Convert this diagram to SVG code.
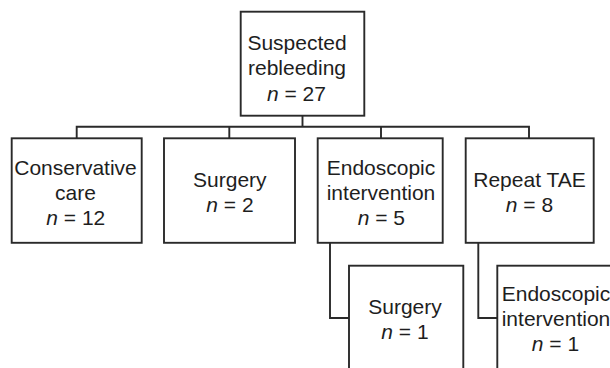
<svg xmlns="http://www.w3.org/2000/svg" width="610" height="368" viewBox="0 0 610 368">
<style>
.box{fill:#fff;stroke:#2a2a2a;stroke-width:1.9}
.ln{fill:none;stroke:#2a2a2a;stroke-width:1.9}
text{font-family:"Liberation Sans",Arial,sans-serif;font-size:21px;fill:#1e1e1e;text-anchor:middle}
.i{font-style:italic}
</style>
<rect width="610" height="368" fill="#fff"/>
<g id="connectors">
<path class="ln" d="M302.5 116V126.7M76.7 138.3V126.7H529V138.3M229.3 126.7V138.3M381 126.7V138.3"/>
<path class="ln" d="M330 243V318H349"/>
<path class="ln" d="M478.3 243V318H497.3"/>
</g>
<g id="n-root">
<rect class="box" x="240.7" y="11.7" width="123.6" height="104"/>
<text x="297" y="49.5">Suspected</text>
<text x="297" y="75.2">rebleeding</text>
<text x="296.5" y="100.5"><tspan class="i">n</tspan> = 27</text>
</g>
<g id="n-conservative">
<rect class="box" x="11.7" y="138.3" width="130" height="104.5"/>
<text x="75.5" y="175.3">Conservative</text>
<text x="75.5" y="200.3">care</text>
<text x="75.8" y="225"><tspan class="i">n</tspan> = 12</text>
</g>
<g id="n-surgery">
<rect class="box" x="164" y="138.3" width="131" height="104.5"/>
<text x="229.8" y="187.3">Surgery</text>
<text x="230" y="212.3"><tspan class="i">n</tspan> = 2</text>
</g>
<g id="n-endoscopic">
<rect class="box" x="317.7" y="138.3" width="125" height="104.5"/>
<text x="381" y="174.8">Endoscopic</text>
<text x="381" y="200.3">intervention</text>
<text x="381.3" y="225"><tspan class="i">n</tspan> = 5</text>
</g>
<g id="n-repeat-tae">
<rect class="box" x="465.7" y="138.3" width="128" height="104.5"/>
<text x="529.5" y="187.3">Repeat TAE</text>
<text x="529.5" y="212.3"><tspan class="i">n</tspan> = 8</text>
</g>
<g id="n-surgery2">
<rect class="box" x="349" y="265.7" width="114.3" height="120"/>
<text x="405" y="314.3">Surgery</text>
<text x="405" y="339.3"><tspan class="i">n</tspan> = 1</text>
</g>
<g id="n-endoscopic2">
<rect class="box" x="497.3" y="265.7" width="120" height="120"/>
<text x="556" y="301">Endoscopic</text>
<text x="556" y="326">intervention</text>
<text x="555.5" y="351"><tspan class="i">n</tspan> = 1</text>
</g>
</svg>
